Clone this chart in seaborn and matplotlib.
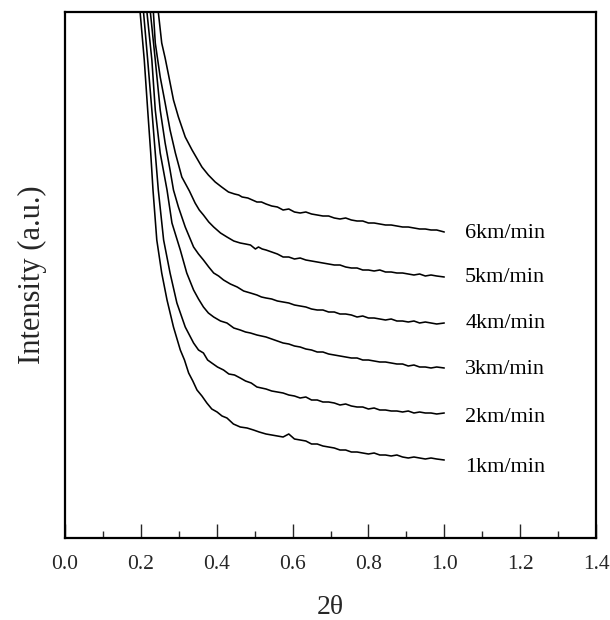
import numpy as np
import pandas as pd
import matplotlib
matplotlib.use("Agg")
import matplotlib.pyplot as plt
import seaborn as sns

# Data (2theta, intensity in arbitrary units)
labels = ["1km/min", "2km/min", "3km/min", "4km/min", "5km/min", "6km/min"]

# steep part of each scan
x_head_1 = [0.193, 0.198, 0.209, 0.218, 0.226, 0.232, 0.242, 0.255, 0.269, 0.286,
            0.304, 0.315, 0.326, 0.337, 0.348, 0.361, 0.374, 0.387, 0.401, 0.414,
            0.427, 0.444, 0.462, 0.480, 0.497, 0.512]
y_head_1 = [558, 526, 478, 428, 385, 348, 298, 265, 238, 211,
            188, 178, 165, 157, 148, 142, 135, 129, 126, 122,
            120, 114, 111, 110, 108, 106]

x_head_2 = [0.201, 0.207, 0.218, 0.229, 0.238, 0.246, 0.260, 0.277, 0.295, 0.317,
            0.339, 0.352, 0.365, 0.376, 0.387, 0.402, 0.418, 0.432, 0.447, 0.462,
            0.476, 0.491, 0.506, 0.518]
y_head_2 = [558, 526, 478, 428, 385, 348, 298, 265, 235, 211,
            195, 188, 185, 178, 175, 171, 168, 164, 163, 160,
            157, 155, 151, 150]

x_head_3 = [0.210, 0.216, 0.229, 0.238, 0.251, 0.269, 0.282, 0.304, 0.321, 0.339,
            0.352, 0.365, 0.378, 0.392, 0.410, 0.427, 0.445, 0.462, 0.476, 0.489,
            0.506, 0.518]
y_head_3 = [558, 526, 478, 428, 385, 348, 315, 288, 265, 248,
            239, 231, 225, 221, 217, 215, 210, 208, 206, 205,
            203, 202]

x_head_4 = [0.219, 0.225, 0.238, 0.251, 0.264, 0.277, 0.286, 0.299, 0.317, 0.339,
            0.352, 0.365, 0.379, 0.392, 0.405, 0.418, 0.436, 0.454, 0.471, 0.489,
            0.506, 0.518]
y_head_4 = [558, 526, 478, 428, 395, 368, 348, 331, 311, 291,
            284, 278, 271, 265, 262, 258, 254, 251, 247, 245,
            243, 241]

x_head_5 = [0.228, 0.233, 0.238, 0.251, 0.264, 0.277, 0.291, 0.308, 0.328, 0.343,
            0.354, 0.365, 0.379, 0.392, 0.410, 0.427, 0.445, 0.462, 0.476, 0.489,
            0.502, 0.510, 0.520]
y_head_5 = [558, 526, 495, 461, 435, 408, 385, 361, 347, 335,
            328, 323, 316, 311, 305, 301, 297, 295, 294, 293,
            289, 291, 289]

x_head_6 = [0.244, 0.246, 0.255, 0.264, 0.273, 0.286, 0.299, 0.317, 0.335, 0.361,
            0.378, 0.396, 0.413, 0.431, 0.447, 0.458, 0.467, 0.482, 0.494, 0.506,
            0.518]
y_head_6 = [558, 526, 495, 480, 463, 438, 421, 401, 388, 371,
            363, 356, 351, 346, 344, 343, 341, 340, 338, 336,
            336]

# flat tail of each scan, sampled at the same 2theta positions
x_tail = [0.530, 0.545, 0.560, 0.575, 0.590, 0.605, 0.620, 0.635, 0.650, 0.665,
          0.680, 0.695, 0.710, 0.725, 0.740, 0.755, 0.770, 0.785, 0.800, 0.815,
          0.830, 0.845, 0.860, 0.875, 0.890, 0.905, 0.920, 0.935, 0.950, 0.965,
          0.980, 1.000]
y_tail_1 = [104, 103, 102, 101, 104, 99, 98, 97, 94, 94,
            92, 91, 90, 88, 88, 86, 86, 85, 84, 85,
            83, 83, 82, 83, 81, 80, 81, 80, 79, 80,
            79, 78]
y_tail_2 = [149, 147, 146, 145, 143, 142, 140, 141, 138, 138,
            136, 136, 135, 133, 134, 132, 131, 131, 129, 130,
            128, 128, 127, 127, 126, 127, 125, 126, 125, 125,
            124, 125]
y_tail_3 = [201, 199, 197, 195, 194, 192, 191, 189, 188, 186,
            186, 184, 183, 182, 181, 180, 180, 178, 178, 177,
            176, 176, 175, 174, 174, 172, 173, 171, 171, 170,
            171, 170]
y_tail_4 = [240, 239, 237, 236, 235, 233, 232, 231, 229, 228,
            228, 226, 226, 224, 224, 223, 221, 222, 220, 220,
            219, 218, 219, 217, 217, 216, 217, 215, 216, 215,
            214, 215]
y_tail_5 = [288, 286, 284, 281, 281, 279, 280, 278, 277, 276,
            275, 274, 273, 273, 271, 270, 270, 268, 268, 267,
            268, 266, 266, 265, 265, 264, 263, 264, 262, 263,
            262, 261]
y_tail_6 = [334, 332, 331, 328, 329, 326, 325, 326, 324, 323,
            322, 322, 320, 319, 320, 318, 317, 317, 315, 315,
            314, 313, 313, 312, 311, 311, 310, 309, 309, 308,
            308, 306]

label_x = 1.055
label_y = [71, 121, 168, 215, 261, 305]

heads_x = [x_head_1, x_head_2, x_head_3, x_head_4, x_head_5, x_head_6]
heads_y = [y_head_1, y_head_2, y_head_3, y_head_4, y_head_5, y_head_6]
tails_y = [y_tail_1, y_tail_2, y_tail_3, y_tail_4, y_tail_5, y_tail_6]

frames = []
for lab, hx, hy, ty in zip(labels, heads_x, heads_y, tails_y):
    frames.append(pd.DataFrame({"two_theta": hx + x_tail,
                                "intensity": hy + ty,
                                "rate": lab}))
df = pd.concat(frames, ignore_index=True)

sns.set_style("white")
plt.rcParams["font.family"] = ["Liberation Serif", "DejaVu Serif"]

fig = plt.figure(figsize=(6.1, 6.2), dpi=100)
ax = fig.add_axes([65 / 610, 82 / 620, (596 - 65) / 610, (538 - 12) / 620])

sns.lineplot(data=df, x="two_theta", y="intensity", hue="rate",
             palette=["black"] * 6, estimator=None, sort=False,
             linewidth=1.15, legend=False, ax=ax)

for lab, ly in zip(labels, label_y):
    ax.text(label_x, ly, lab, fontsize=16, va="center", ha="left", color="black")

ax.set_xlim(0.0, 1.4)
ax.set_ylim(0, 526)
major = np.arange(0.0, 1.41, 0.2)
ax.set_xticks(major)
ax.set_xticklabels([f"{v:.1f}" for v in major], fontsize=15.5)
ax.set_xticks(np.arange(0.1, 1.4, 0.2), minor=True)
ax.set_yticks([])
ax.tick_params(axis="x", which="major", direction="in", length=10, width=1.0,
               pad=12, bottom=True, top=False)
ax.tick_params(axis="x", which="minor", direction="in", length=5, width=1.0,
               bottom=True, top=False)
for sp in ax.spines.values():
    sp.set_visible(True)
    sp.set_linewidth(1.6)
    sp.set_color("black")

ax.set_xlabel("2θ", fontsize=20, labelpad=15)
ax.set_ylabel("Intensity (a.u.)", fontsize=22, labelpad=13)

fig.savefig("out.png", dpi=100)
